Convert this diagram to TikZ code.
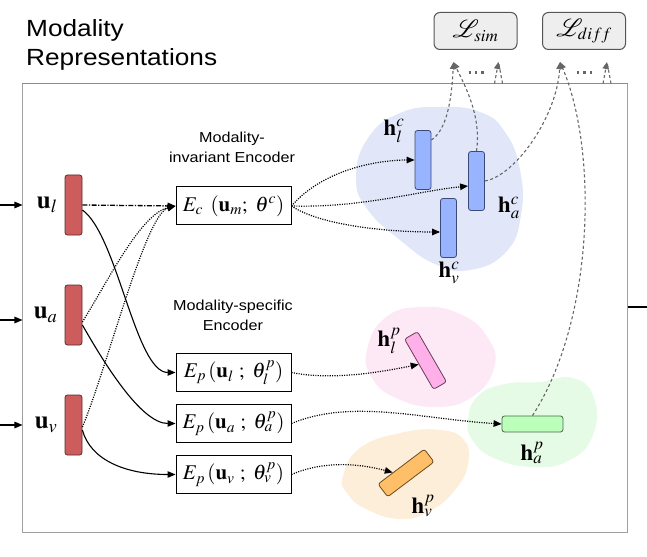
\documentclass[tikz,border=0pt]{standalone}
\usepackage{mathptmx}
\usepackage{mathrsfs}
\usepackage{fontspec}
\setmainfont{Liberation Serif}
\newfontfamily\lblfont{Liberation Sans}[FakeStretch=1.12]
\usetikzlibrary{arrows.meta,calc,positioning}
\definecolor{ubarfill}{HTML}{CD5C5C}
\definecolor{ubardraw}{HTML}{5A2A2A}
\definecolor{hcfill}{HTML}{99B4FF}
\definecolor{hcdraw}{HTML}{3C4A7A}
\definecolor{hlpfill}{HTML}{FFB0E8}
\definecolor{hlpdraw}{HTML}{6B3A5A}
\definecolor{hapfill}{HTML}{BBFFBB}
\definecolor{hapdraw}{HTML}{4A6A4A}
\definecolor{hvpfill}{HTML}{FFBF69}
\definecolor{hvpdraw}{HTML}{6B4A1A}
\definecolor{blobblue}{HTML}{E1E7F8}
\definecolor{blobpink}{HTML}{FDE8F6}
\definecolor{blobgreen}{HTML}{E5FBE5}
\definecolor{bloborange}{HTML}{FDEEDA}
\definecolor{lossfill}{HTML}{EEEEEE}
\definecolor{lossdraw}{HTML}{555555}
\definecolor{dashgray}{HTML}{666666}
\definecolor{framegray}{HTML}{A0A0A0}
\begin{document}
\begin{tikzpicture}[x=1bp,y=-1bp,
  ubar/.style={draw=ubardraw,fill=ubarfill,rounded corners=2.5bp,minimum width=17bp,minimum height=60bp,inner sep=0pt,line width=0.8bp},
  hbar/.style={rounded corners=2.5bp,inner sep=0pt,line width=0.8bp},
  hcbar/.style={hbar,draw=hcdraw,fill=hcfill,minimum width=16bp,minimum height=59bp},
  encbox/.style={draw,line width=1bp,minimum width=115bp,minimum height=38bp,inner sep=0pt,font=\fontsize{21}{24}\selectfont},
  lossbox/.style={draw=lossdraw,fill=lossfill,rounded corners=6bp,line width=1bp,minimum width=83bp,minimum height=37bp,inner sep=0pt,font=\fontsize{23}{26}\selectfont},
  mathlbl/.style={inner sep=0pt,font=\fontsize{25}{28}\selectfont},
  hlbl/.style={inner sep=0pt,font=\fontsize{23}{26}\selectfont},
  sanslbl/.style={inner sep=0pt,align=center,font=\lblfont\fontsize{14.5}{20}\selectfont},
  tip/.style={-{Triangle[length=8bp,width=6.5bp]}},
  solidarrow/.style={tip,line width=1.1bp},
  dotarrow/.style={tip,line width=1.2bp,dash pattern=on 1.1bp off 1.3bp},
  dashdotarrow/.style={tip,line width=1.3bp,dash pattern=on 5bp off 1.5bp on 1.2bp off 1.5bp},
  lossdash/.style={draw=dashgray,line width=1.1bp,dash pattern=on 3bp off 2.5bp},
  lossarrow/.style={lossdash,-{Triangle[length=7bp,width=6.5bp]}},
  lossdots/.style={draw=dashgray,line width=2.4bp,dash pattern=on 2.4bp off 4bp}
]
\useasboundingbox (0,0) rectangle (647,557);

% blobs
\fill[blobblue] plot[smooth cycle,tension=0.8] coordinates {(356,178) (368,138) (400,113) (440,107) (480,112) (505,132) (520,170) (521,215) (506,252) (470,270) (435,264) (400,240) (368,210)};
\fill[blobpink] plot[smooth cycle,tension=0.8] coordinates {(367,350) (385,318) (420,307) (460,314) (488,338) (494,368) (472,397) (435,407) (396,398) (372,378)};
\fill[blobgreen] plot[smooth cycle,tension=0.8] coordinates {(468,420) (478,396) (505,384) (540,382) (573,378) (594,398) (593,435) (570,460) (535,467) (496,459) (473,441)};
\fill[bloborange] plot[smooth cycle,tension=0.8] coordinates {(343,476) (360,448) (400,433) (440,430) (464,440) (468,464) (455,490) (430,511) (400,519) (366,509) (347,493)};

% frame
\node[draw=framegray,line width=1bp,minimum width=604bp,minimum height=448bp,inner sep=0pt] (frame) at (325,308) {};
\draw[draw=gray!90,line width=1.6bp] (frame.north west) -- (frame.north east);

% title and section labels
\node[anchor=north west,inner sep=0pt,align=left,font=\lblfont\fontsize{23.5}{29}\selectfont] (title) at (26,19) {Modality\\Representations};
\node[sanslbl,anchor=north] (invlbl) at (232,132) {Modality-\\invariant Encoder};
\node[sanslbl,anchor=north] (speclbl) at (233,300) {Modality-specific\\Encoder};

% input bars
\node[ubar] (ul) at (73.5,205) {};
\node[ubar] (ua) at (73.5,315) {};
\node[ubar] (uv) at (73.5,425) {};
\node[mathlbl,left=7bp of ul] (ullbl) {$\mathbf{u}_l$};
\node[mathlbl,left=7bp of ua] (ualbl) {$\mathbf{u}_a$};
\node[mathlbl,left=7bp of uv] (uvlbl) {$\mathbf{u}_v$};

% encoders
\node[encbox] (Ec) at (233.5,206) {$E_c\ \,(\mathbf{u}_m;\ \theta^c)$};
\node[encbox] (Epl) at (233.5,372.5) {$E_p\,(\mathbf{u}_l\ ;\ \theta^p_l)$};
\node[encbox] (Epa) at (233.5,423.5) {$E_p\,(\mathbf{u}_a\ ;\ \theta^p_a)$};
\node[encbox] (Epv) at (233.5,474.5) {$E_p\,(\mathbf{u}_v\ ;\ \theta^p_v)$};

% representation bars
\node[hcbar] (hlc) at (423,160) {};
\node[hcbar] (hac) at (476.5,181) {};
\node[hcbar] (hvc) at (448.5,228) {};
\node[hbar,draw=hlpdraw,fill=hlpfill,minimum width=58bp,minimum height=15bp,rotate=-60] (hlp) at (425.5,360.5) {};
\node[hbar,draw=hapdraw,fill=hapfill,minimum width=61bp,minimum height=16bp] (hap) at (532.5,424) {};
\node[hbar,draw=hvpdraw,fill=hvpfill,minimum width=58bp,minimum height=16bp,rotate=37] (hvp) at (406,473) {};

\node[hlbl] (hlclbl) at (394,131) {$\mathbf{h}_l^c$};
\node[hlbl] (haclbl) at (509,208) {$\mathbf{h}_a^c$};
\node[hlbl] (hvclbl) at (449,273) {$\mathbf{h}_v^c$};
\node[hlbl] (hlplbl) at (389,341) {$\mathbf{h}_l^p$};
\node[hlbl] (haplbl) at (532,453) {$\mathbf{h}_a^p$};
\node[hlbl] (hvplbl) at (423,506) {$\mathbf{h}_v^p$};

% losses
\node[lossbox] (Lsim) at (475.5,31) {$\mathscr{L}_{sim}$};
\node[lossbox] (Ldiff) at (584,31) {$\mathscr{L}_{diff}$};
\coordinate (s1) at ($(Lsim.south)+(-22,12)$);
\coordinate (s2) at ($(Lsim.south)+(23,12)$);
\coordinate (d1) at ($(Ldiff.south)+(-24,12)$);
\coordinate (d2) at ($(Ldiff.south)+(23,12)$);
\coordinate (s2a) at ($(s2)+(-4,21.5)$);
\coordinate (s2b) at ($(s2)+(4,21.5)$);
\coordinate (d2a) at ($(d2)+(-4,21.5)$);
\coordinate (d2b) at ($(d2)+(4,21.5)$);
\coordinate (sdotA) at ($(Lsim.south)+(-7,22.5)$);
\coordinate (sdotB) at ($(Lsim.south)+(12,22.5)$);
\coordinate (ddotA) at ($(Ldiff.south)+(-7,22.5)$);
\coordinate (ddotB) at ($(Ldiff.south)+(8,22.5)$);
\draw[lossdots] (sdotA) -- (sdotB);
\draw[lossdots] (ddotA) -- (ddotB);
\draw[lossarrow] (s2a) -- (s2);
\draw[lossdash] (s2b) -- (s2);
\draw[lossarrow] (d2a) -- (d2);
\draw[lossdash] (d2b) -- (d2);
\draw[lossarrow] ([yshift=20bp]hlc.east) .. controls +(15,-10) and +(-2,40) .. (s1);
\draw[lossarrow] (hac.north) .. controls +(5,-35) and +(12,25) .. (s1);
\draw[lossarrow] (hac.east) .. controls +(30,-5) and +(-3,55) .. (d1);
\draw[lossarrow] (hap.north) .. controls +(62,-96) and +(38,89) .. (d1);

% inputs from outside
\coordinate (inl) at (0,205);
\coordinate (ina) at (0,320);
\coordinate (inv) at (0,425);
\draw[solidarrow] (inl) -- (inl -| frame.west);
\draw[solidarrow] (ina) -- (ina -| frame.west);
\draw[solidarrow] (inv) -- (inv -| frame.west);
\coordinate (outr) at (647,307);
\draw[line width=1.3bp] (outr -| frame.east) -- (outr);

% input -> encoders
\draw[dashdotarrow] (ul.east) -- (Ec.west);
\draw[dotarrow] ([yshift=-7bp]ua.east) .. controls +(25,-40) and +(-35,8) .. (Ec.west);
\draw[dotarrow] ([yshift=-2bp]uv.east) .. controls +(25,-60) and +(-30,8) .. (Ec.west);
\draw[solidarrow] ([yshift=-5bp]ul.east) .. controls +(35,25) and +(-40,0) .. (Epl.west);
\draw[solidarrow] ([yshift=-10bp]ua.east) .. controls +(20,35) and +(-35,0) .. (Epa.west);
\draw[solidarrow] ([yshift=-5bp]uv.east) .. controls +(8,30) and +(-50,0) .. (Epv.west);

% encoders -> representations
\draw[dotarrow] (Ec.east) .. controls +(30,-35) and +(-40,0) .. (hlc.west);
\draw[dotarrow] (Ec.east) .. controls +(70,2) and +(-50,5) .. ([yshift=-5bp]hac.west);
\draw[dotarrow] (Ec.east) .. controls +(30,20) and +(-50,0) .. ([yshift=-4bp]hvc.west);
\draw[dotarrow] (Epl.east) .. controls +(40,8) and +(-40,8) .. (hlp.south);
\draw[dotarrow] (Epa.east) .. controls +(60,-25) and +(-80,-5) .. (hap.west);
\draw[dotarrow] (Epv.east) .. controls +(35,-15) and +(-30,-8) .. ($(hvp.north)!0.35!(hvp.north west)$);
\end{tikzpicture}
\end{document}
